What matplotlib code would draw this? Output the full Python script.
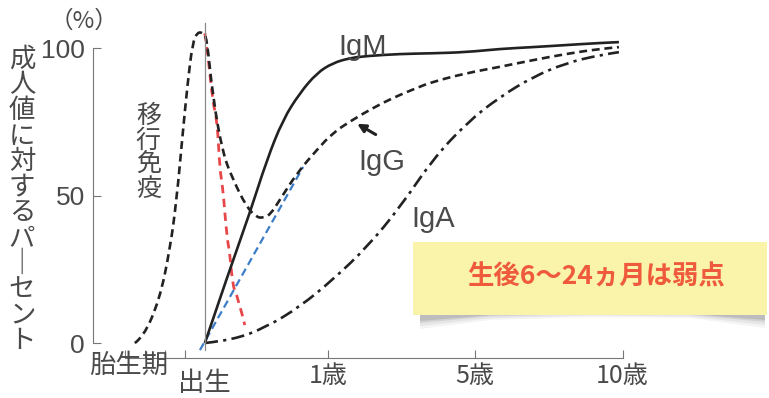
import matplotlib
matplotlib.use("Agg")
import matplotlib.pyplot as plt
from matplotlib.patches import Rectangle, Polygon, PathPatch
from matplotlib.path import Path

plt.rcParams['font.family'] = ['Noto Sans CJK JP', 'DejaVu Sans']

# x is a display position: birth = 0, 1歳 = 10, 5歳 = 22, 10歳 = 34
age_ticks = [10, 22, 34]
age_labels = ['1歳', '5歳', '10歳']
fetal_ticks = [-6.5, -4.9, -3.25, -1.65]

# maternal antibodies (prenatal rise, decay) running into IgG
igg_x = [-5.7, -5.0, -3.7, -2.85, -2.3, -1.8, -1.4, -1.0, -0.6, -0.15, 0.15, 0.65,
         1.45, 2.3, 3.4, 4.2, 4.7, 5.3, 6.1, 7.5, 9.1, 10.4, 12.0, 13.7, 15.3, 17.2,
         18.5, 21.3, 24.0, 26.7, 29.4, 32.1, 33.7]
igg_y = [0, 2.0, 14.6, 31.5, 48.5, 71.2, 88.1, 101.7, 105.4, 105.1, 103.7, 83.4,
         64.4, 55.3, 46.1, 42.7, 42.4, 43.4, 48.5, 57.6, 65.4, 71.2, 75.6, 79.7, 83.1, 86.4,
         88.5, 91.5, 93.6, 95.9, 98.0, 99.7, 100.3]

igm_x = [0, 2.0, 3.66, 5.04, 6.34, 7.72, 9.11, 10.4, 11.8, 13.2, 15.9, 18.5, 21.3,
         24.0, 26.7, 29.4, 32.1, 33.7]
igm_y = [0, 24.6, 44.1, 62.0, 75.6, 84.7, 91.5, 94.9, 96.6, 97.3, 98.0, 98.2, 98.6,
         99.7, 100.3, 101.0, 101.7, 102.0]

iga_x = [0, 2.3, 5.0, 7.7, 10.4, 13.2, 15.9, 18.5, 21.3, 24.0, 26.7, 29.4, 32.1, 33.7]
iga_y = [0, 1.0, 5.4, 12.2, 21.4, 32.5, 46.1, 62.0, 74.6, 83.4, 90.2, 94.9, 97.6, 98.6]

# maternal IgG decay (red) and own IgG production (blue)
mat_x = [0, 0.24, 0.65, 1.0, 1.22, 1.46, 1.79, 2.03, 2.28, 2.68, 3.25]
mat_y = [105, 98.3, 81.4, 75.6, 58.6, 52.9, 35.9, 30.5, 19.0, 15.6, 6.1]
own_x = [-0.4, 8.0]
own_y = [-2.4, 59.7]

grey = '#4a4a4a'
latin = ['Liberation Sans', 'DejaVu Sans']


def smooth_line(ax, xs, ys, **kw):
    # quadratic bezier path through midpoints, the points act as control points
    pts = list(zip(xs, ys))
    verts = [pts[0]]
    codes = [Path.MOVETO]
    for i in range(1, len(pts) - 1):
        mid = ((pts[i][0] + pts[i + 1][0]) / 2, (pts[i][1] + pts[i + 1][1]) / 2)
        if i == len(pts) - 2:
            mid = pts[i + 1]
        verts += [pts[i], mid]
        codes += [Path.CURVE3, Path.CURVE3]
    if len(pts) == 2:
        verts.append(pts[1])
        codes.append(Path.LINETO)
    ax.add_patch(PathPatch(Path(verts, codes), fill=False, **kw))


fig = plt.figure(figsize=(7.69, 3.98), dpi=100)
ax = fig.add_axes([0.121, 0.1011, 0.711, 0.8672])
ax.set_xlim(-9.1, 35.4)
ax.set_ylim(-5, 112)

# birth line
ax.plot([0, 0], [-2.4, 108.5], color='#8a8a8a', lw=0.9)

smooth_line(ax, mat_x, mat_y, edgecolor='#e8474a', lw=2.0, linestyle=(0, (3, 2)))
smooth_line(ax, own_x, own_y, edgecolor='#3b7dc8', lw=1.6, linestyle=(0, (3.5, 2)))
smooth_line(ax, igg_x, igg_y, edgecolor='#222222', lw=1.9, linestyle=(0, (3, 1.8)))
smooth_line(ax, igm_x, igm_y, edgecolor='#222222', lw=1.9)
smooth_line(ax, iga_x, iga_y, edgecolor='#222222', lw=1.9, linestyle=(0, (5, 2, 1.2, 2)))

ax.text(12.8, 100.5, 'IgM', fontsize=21, color=grey, ha='center', va='center', family=latin)
ax.text(14.4, 61.3, 'IgG', fontsize=21, color=grey, ha='center', va='center', family=latin)
ax.text(18.6, 42.0, 'IgA', fontsize=21, color=grey, ha='center', va='center', family=latin)
ax.annotate('', xy=(12.2, 74.8), xytext=(14.1, 70.2),
            arrowprops=dict(arrowstyle='-|>', color='#222222', lw=2.2, mutation_scale=12))

ax.text(-4.6, 64.5, '\n'.join('移行免疫'), fontsize=18, color=grey,
        ha='center', va='center', linespacing=0.92)

# axes
for s in ['top', 'right']:
    ax.spines[s].set_visible(False)
ax.spines['left'].set_bounds(0, 100)
ax.spines['bottom'].set_bounds(-6.5, 34)
ax.spines['left'].set_color('#777777')
ax.spines['bottom'].set_color('#777777')
ax.set_yticks([0, 50, 100])
ax.set_yticklabels(['0', '50', '100'], family=latin)
ax.tick_params(axis='y', direction='in', length=6, color='#777777',
               labelsize=19, labelcolor=grey, pad=6)
ax.set_xticks(fetal_ticks + age_ticks)
ax.set_xticklabels([''] * len(fetal_ticks) + age_labels)
ax.tick_params(axis='x', direction='in', length=6, color='#777777',
               labelsize=18, labelcolor=grey, pad=4)

ax.text(-6.2, -7.6, '胎生期', fontsize=19, color=grey, ha='center', va='center')
ax.text(0, -13.6, '出生', fontsize=19, color=grey, ha='center', va='center')

fig.text(22 / 769, 1 - 200 / 398, '\n'.join('成人値に対するパ｜セント'), fontsize=19,
         color=grey, ha='center', va='center', linespacing=0.93)
fig.text(84 / 769, 1 - 21 / 398, '（%）', fontsize=17, color=grey, ha='center', va='center')

# note box with curled shadow
W, H = 769, 398


def fp(px, py):
    return (px / W, 1 - py / H)


for d, a in [(10, 0.05), (7, 0.07), (4, 0.1), (2, 0.14)]:
    shadow = Polygon([fp(420, 305), fp(765, 305), fp(765, 318 + d), fp(690, 313 + d * 0.5),
                      fp(590, 312 + d * 0.5), fp(490, 314 + d * 0.6), fp(420, 319 + d)],
                     closed=True, transform=fig.transFigure, facecolor='#333333',
                     edgecolor='none', alpha=a)
    fig.patches.append(shadow)
box = Rectangle(fp(413, 315), 354 / W, 73 / H, transform=fig.transFigure,
                facecolor='#f9f4a9', edgecolor='none')
fig.patches.append(box)
fig.text(596 / W, 1 - 277 / H, '生後6〜24ヵ月は弱点', fontsize=19, fontweight='bold',
         color='#ef5a3c', ha='center', va='center')

fig.savefig('out.png', dpi=100)
